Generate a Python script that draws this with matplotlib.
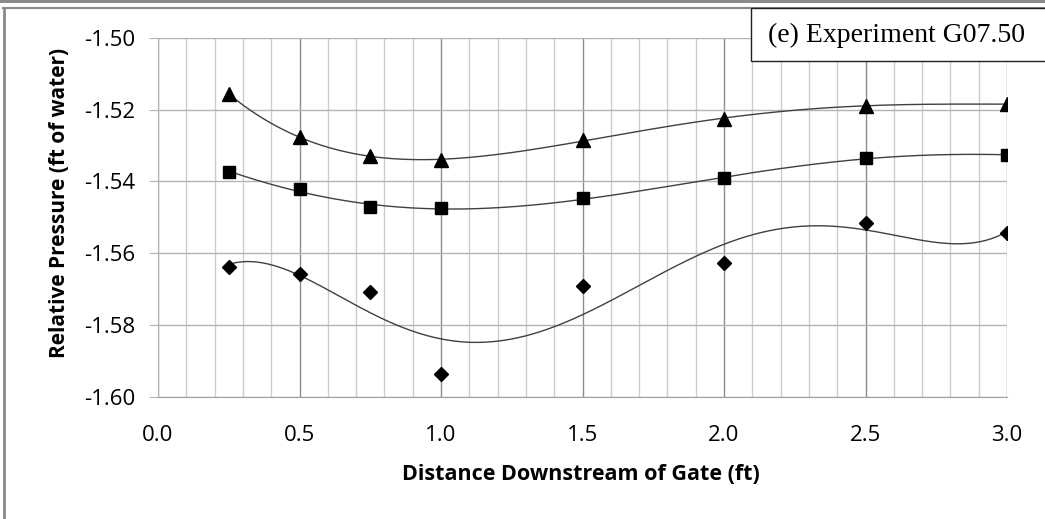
import numpy as np
import matplotlib
matplotlib.use("Agg")
import matplotlib.pyplot as plt
from matplotlib.patches import Rectangle
from matplotlib.lines import Line2D
from matplotlib.ticker import MultipleLocator, FormatStrFormatter

# ---- data ----
distance = [0.25, 0.5, 0.75, 1.0, 1.5, 2.0, 2.5, 3.0]
series_triangle = [-1.5157, -1.5276, -1.5330, -1.5340, -1.5286, -1.5225, -1.5189, -1.5185]
series_square = [-1.5373, -1.5422, -1.5471, -1.5475, -1.5447, -1.5391, -1.5336, -1.5326]
series_diamond = [-1.5637, -1.5659, -1.5709, -1.5935, -1.5692, -1.5626, -1.5516, -1.5543]
trend_order = 5

xlabel = "Distance Downstream of Gate (ft)"
ylabel = "Relative Pressure (ft of water)"
box_text = "(e) Experiment G07.50"

W, H = 1045, 519
fig = plt.figure(figsize=(W / 100, H / 100), dpi=100)
fig.patch.set_facecolor("white")

L, R, T, B = 158, 1007, 37.7, 397
ax = fig.add_axes([L / W, 1 - B / H, (R - L) / W, (B - T) / H])

x = np.array(distance)
xs = np.linspace(0.25, 3.0, 300)
for ys, mk, ms in [(series_triangle, "^", 9.5), (series_square, "s", 8.5), (series_diamond, "D", 7.5)]:
    ys = np.array(ys)
    coef = np.polyfit(x, ys, trend_order)
    ax.plot(xs, np.polyval(coef, xs), color="#404040", lw=1.0, zorder=3)
    ax.plot(x, ys, linestyle="none", marker=mk, ms=ms, color="black", zorder=4)

ax.set_xlim(0, 3.0)
ax.set_ylim(-1.60, -1.50)
ax.xaxis.set_major_locator(MultipleLocator(0.5))
ax.xaxis.set_minor_locator(MultipleLocator(0.1))
ax.yaxis.set_major_locator(MultipleLocator(0.02))
ax.xaxis.set_major_formatter(FormatStrFormatter("%.1f"))
ax.yaxis.set_major_formatter(FormatStrFormatter("%.2f"))

ax.grid(which="minor", axis="x", color="#cccccc", lw=1.0)
ax.grid(which="major", axis="x", color="#8c8c8c", lw=1.0)
ax.grid(which="major", axis="y", color="#b4b4b4", lw=1.0)
ax.set_axisbelow(True)

for s in ["top", "right"]:
    ax.spines[s].set_visible(False)
ax.spines["left"].set_color("#b4b4b4")
ax.spines["bottom"].set_color("#a0a0a0")

ax.tick_params(axis="x", which="both", length=0, pad=20, labelsize=16)
ax.tick_params(axis="y", which="major", length=6.5, color="#b4b4b4", pad=10, labelsize=16)
ax.tick_params(axis="y", which="minor", length=0)
for lab in ax.get_xticklabels() + ax.get_yticklabels():
    lab.set_fontfamily("Open Sans")

ax.set_xlabel(xlabel, fontsize=15.5, fontweight="bold", family="Open Sans")
ax.set_ylabel(ylabel, fontsize=15, fontweight="bold", family="Open Sans")
ax.xaxis.set_label_coords(0.4976, (B - 474) / (B - T))
ax.xaxis.label.set_va("center")
ax.yaxis.set_label_coords((60 - L) / (R - L), (B - 203) / (B - T))
ax.yaxis.label.set_va("center")

# figure borders
def px(xp, yp):
    return xp / W, 1 - yp / H

fig.add_artist(Rectangle(px(0, 2.5), 1, 2.5 / H, transform=fig.transFigure,
                         facecolor="#8a8a8a", edgecolor="none"))
fig.add_artist(Line2D([3 / W, 1], [1 - 7.5 / H, 1 - 7.5 / H], transform=fig.transFigure,
                      color="#8a8a8a", lw=1.5))
fig.add_artist(Line2D([4 / W, 4 / W], [0, 1 - 7.5 / H], transform=fig.transFigure,
                      color="#8a8a8a", lw=2.0))

# text box
fig.add_artist(Rectangle(px(751, 61), (W + 5 - 751) / W, 53 / H, transform=fig.transFigure,
                         facecolor="white", edgecolor="#202020", lw=1.0, zorder=10))
fig.text(897 / W, 1 - 35 / H, box_text, family="Liberation Serif", fontsize=20,
         ha="center", va="center", zorder=11)

fig.savefig("out.png", dpi=100)
